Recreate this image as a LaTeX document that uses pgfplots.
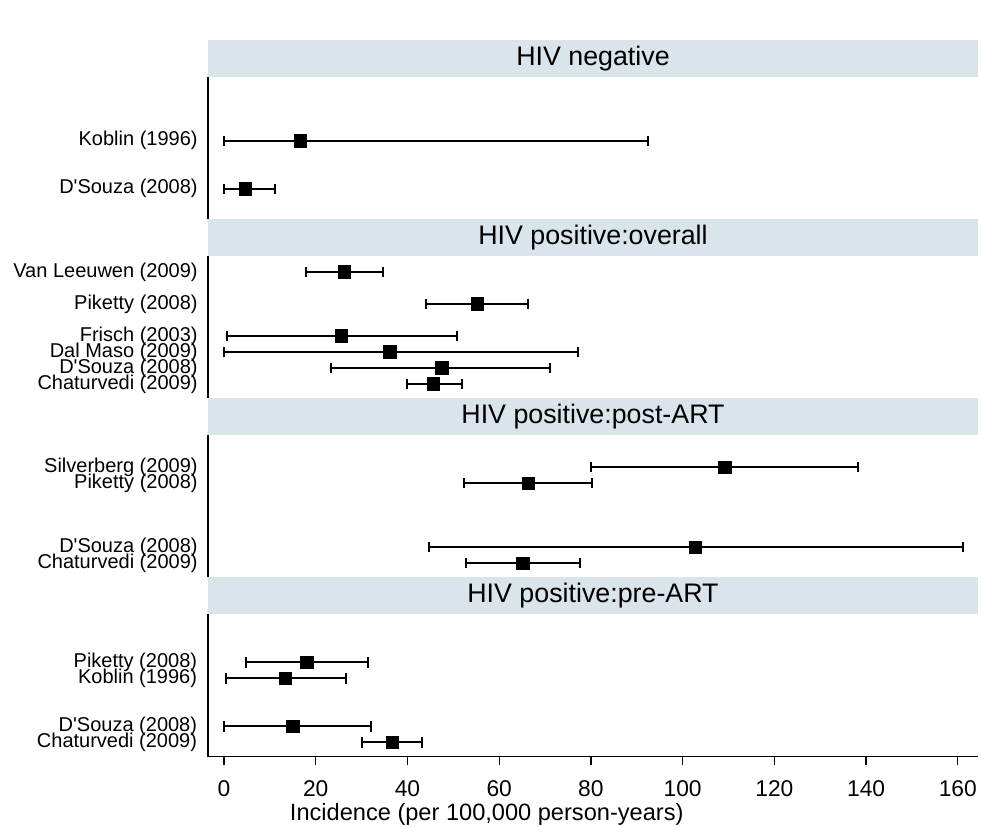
\documentclass[border=0pt]{standalone}
\usepackage{pgfplots}
\pgfplotsset{compat=1.18}
\usepackage{pgfplotstable}
\usepackage{fontspec}
\setmainfont{Liberation Sans}
\definecolor{stripbg}{RGB}{217,229,235}
\newcommand{\q}{\textquotesingle}

% Incidence estimates with 95% CI: row position, estimate, lower, upper
\pgfplotstableread{
pos est lo hi
4 16.6 0.0 92.5
7 4.7 0.0 11.2
}\hivneg
\pgfplotstableread{
pos est lo hi
1 26.2 17.8 34.6
3 55.2 44.0 66.3
5 25.6 0.6 50.9
6 36.2 0.0 77.2
7 47.5 23.4 71.1
8 45.7 39.8 51.8
}\hivall
\pgfplotstableread{
pos est lo hi
2 109.2 80.0 138.2
3 66.4 52.3 80.3
7 102.8 44.7 161.1
8 65.2 52.7 77.7
}\hivpost
\pgfplotstableread{
pos est lo hi
3 18.1 4.7 31.5
4 13.4 0.4 26.6
7 15.0 0.0 32.0
8 36.7 30.0 43.2
}\hivpre

\pgfplotsset{
  panel/.style={
    scale only axis, width=385pt, height=71.125pt,
    xmin=-3.49, xmax=164.4, ymin=0, ymax=8.89, y dir=reverse,
    axis line style={line width=0.6pt},
    ytick style={draw=none},
    yticklabel style={font=\fontsize{10}{10}\selectfont, inner sep=0pt, xshift=-5pt},
    anchor=north west,
  },
  ci/.style={
    only marks, mark=square*, mark size=3.1pt, black,
    mark options={solid, fill=black},
    error bars/.cd, x dir=both, x explicit,
    error mark=|,
    error bar style={line width=1pt, black},
    error mark options={line width=1pt, mark size=2.6pt, black},
  },
}
\newcommand{\ciplot}[1]{%
  \addplot[ci] table[x=est, y=pos,
    x error plus expr=\thisrow{hi}-\thisrow{est},
    x error minus expr=\thisrow{est}-\thisrow{lo}] #1;}
\newcommand{\strip}[2]{%
  \fill[stripbg] (#1.north west) rectangle ([yshift=18.5pt]#1.north east);
  \node[font=\fontsize{13.4}{13.4}\selectfont, inner sep=0pt]
    at ([yshift=9.25pt]#1.north) {#2};}

\begin{document}
\begin{tikzpicture}
\path (0pt,0pt) rectangle (490.5pt,-413pt);

\begin{axis}[panel, name=p1, at={(104pt,-38.35pt)},
  axis y line*=left, axis x line=none,
  ytick={4,7}, yticklabels={Koblin (1996), D\q Souza (2008)}]
\ciplot{\hivneg}
\end{axis}
\strip{p1}{HIV negative}

\begin{axis}[panel, name=p2, at={(104pt,-127.975pt)},
  axis y line*=left, axis x line=none,
  ytick={1,3,5,6,7,8},
  yticklabels={Van Leeuwen (2009), Piketty (2008), Frisch (2003),
    Dal Maso (2009), D\q Souza (2008), Chaturvedi (2009)}]
\ciplot{\hivall}
\end{axis}
\strip{p2}{HIV positive:overall}

\begin{axis}[panel, name=p3, at={(104pt,-217.6pt)},
  axis y line*=left, axis x line=none,
  ytick={2,3,7,8},
  yticklabels={Silverberg (2009), Piketty (2008), D\q Souza (2008), Chaturvedi (2009)}]
\ciplot{\hivpost}
\end{axis}
\strip{p3}{HIV positive:post-ART}

\begin{axis}[panel, name=p4, at={(104pt,-307.225pt)},
  axis lines*=left,
  ytick={3,4,7,8},
  yticklabels={Piketty (2008), Koblin (1996), D\q Souza (2008), Chaturvedi (2009)},
  yticklabel style={xshift=4pt},
  xtick={0,20,...,160},
  tick align=outside,
  xtick style={black, line width=0.6pt, /pgfplots/major tick length=4pt},
  /pgf/number format/assume math mode=true,
  xticklabel style={font=\fontsize{11.4}{11.4}\selectfont, inner sep=0pt,
    anchor=north, yshift=-7.5pt},
  xlabel={Incidence (per 100,000 person-years)},
  xlabel style={at={(axis description cs:0.362,0)}, anchor=north, inner sep=0pt,
    yshift=-23pt, font=\fontsize{11.8}{11.8}\selectfont}]
\ciplot{\hivpre}
\end{axis}
\strip{p4}{HIV positive:pre-ART}
\end{tikzpicture}
\end{document}
